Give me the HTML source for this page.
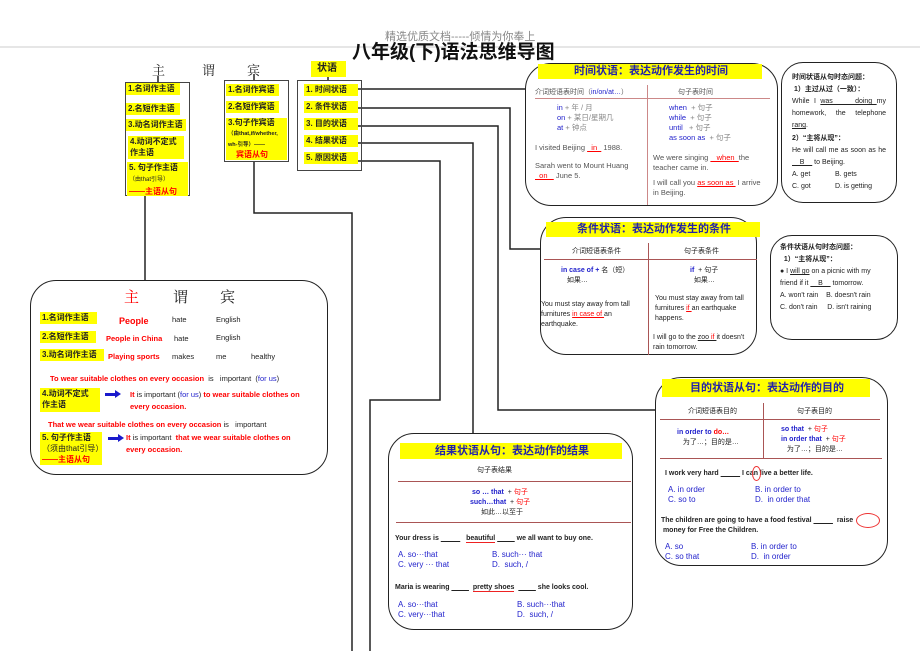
<!DOCTYPE html>
<html><head><meta charset="utf-8"><style>
*{margin:0;padding:0;box-sizing:border-box}
body{width:920px;height:651px;background:#fff;position:relative;overflow:hidden;font-family:"Liberation Sans","Noto Sans CJK SC",sans-serif;color:#222}
div,span.a{position:absolute}
.y{background:#ff0;font-weight:bold;font-size:8px;line-height:12px;padding-left:2px;white-space:nowrap}
.bx{border:1.5px solid #444}
.rb{border:1.5px solid #222;border-radius:26px;background:#fff}
.t{font-size:7.5px;line-height:10px;white-space:nowrap}
.b{color:#2222cc}.r{color:#f00}
.u{text-decoration:underline}
svg{position:absolute;left:0;top:0}
</style></head><body>
<svg width="920" height="651">
<line x1="0" y1="47" x2="920" y2="47" stroke="#ccc" stroke-width="1"/>
<g stroke="#222" stroke-width="1.5" fill="none">
<line x1="158" y1="76" x2="158" y2="82"/>
<line x1="254" y1="74" x2="254" y2="80"/>
<line x1="328" y1="77" x2="328" y2="80"/>
<polyline points="145,196 145,280"/>
<polyline points="254,162 254,213 352,213 352,651"/>
<polyline points="357,161 440,161 440,400 370,400 370,651"/>
<polyline points="357,143 473,143 473,433"/>
<polyline points="357,126 498,126 498,410 656,410"/>
<polyline points="357,108 510,108 510,249 541,249"/>
<polyline points="357,89 526,89"/>
</g>
</svg>
<div style="left:385px;top:28px;font-size:11px;color:#888">精选优质文档-----倾情为你奉上</div>
<div style="left:352px;top:37px;font-size:19px;font-weight:bold;color:#111">八年级(下)语法思维导图</div>
<div style="left:152px;top:60px;font-size:13px;font-family:'Noto Serif CJK SC',serif">主</div>
<div style="left:202px;top:60px;font-size:13px;font-family:'Noto Serif CJK SC',serif">谓</div>
<div style="left:247px;top:60px;font-size:13px;font-family:'Noto Serif CJK SC',serif">宾</div>
<div class="y" style="left:311px;top:61px;width:35px;height:16px;font-size:10px;line-height:16px;padding-left:6px">状语</div>

<div class="bx" style="left:125px;top:82px;width:65px;height:114px"></div>
<div class="y" style="left:126px;top:83px;width:54px">1.名词作主语</div>
<div class="y" style="left:126px;top:103px;width:54px">2.名短作主语</div>
<div class="y" style="left:126px;top:119px;width:60px">3.动名词作主语</div>
<div class="y" style="left:128px;top:136px;width:56px;height:23px;line-height:11px">4.动词不定式<br>作主语</div>
<div class="y" style="left:127px;top:162px;width:61px;height:34px;line-height:11px">5. 句子作主语<br><span style="font-size:6px;font-weight:normal">（由that引导）</span><br><span class="r">——主语从句</span></div>

<div class="bx" style="left:224px;top:80px;width:65px;height:82px"></div>
<div class="y" style="left:226px;top:84px;width:53px">1.名词作宾语</div>
<div class="y" style="left:226px;top:101px;width:53px">2.名短作宾语</div>
<div class="y" style="left:226px;top:118px;width:61px;height:42px;line-height:10px">3.句子作宾语<br><span style="font-size:5.5px">（由that,if/whether,<br>wh-引导）——</span><br><span class="r" style="padding-left:8px">宾语从句</span></div>

<div class="bx" style="left:297px;top:80px;width:65px;height:91px"></div>
<div class="y" style="left:304px;top:84px;width:54px">1. 时间状语</div>
<div class="y" style="left:304px;top:101px;width:54px">2. 条件状语</div>
<div class="y" style="left:304px;top:118px;width:54px">3. 目的状语</div>
<div class="y" style="left:304px;top:135px;width:54px">4. 结果状语</div>
<div class="y" style="left:304px;top:152px;width:54px">5. 原因状语</div>

<!-- main box -->
<div class="rb" style="left:30px;top:280px;width:298px;height:195px"></div>
<div style="left:124px;top:286px;font-size:15px;color:#f00;font-family:'Noto Serif CJK SC',serif">主</div>
<div style="left:173px;top:286px;font-size:15px;font-family:'Noto Serif CJK SC',serif">谓</div>
<div style="left:220px;top:286px;font-size:15px;font-family:'Noto Serif CJK SC',serif">宾</div>
<div class="y" style="left:40px;top:312px;width:57px">1.名词作主语</div>
<div class="y" style="left:40px;top:331px;width:56px">2.名短作主语</div>
<div class="y" style="left:40px;top:349px;width:64px">3.动名词作主语</div>
<div class="t r" style="left:119px;top:316px;font-size:9px;font-weight:bold">People</div>
<div class="t" style="left:172px;top:315px">hate</div><div class="t" style="left:216px;top:315px">English</div>
<div class="t r" style="left:106px;top:334px;font-weight:bold">People in China</div>
<div class="t" style="left:174px;top:334px">hate</div><div class="t" style="left:216px;top:333px">English</div>
<div class="t r" style="left:108px;top:352px;font-weight:bold">Playing sports</div>
<div class="t" style="left:172px;top:352px">makes</div><div class="t" style="left:216px;top:352px">me</div><div class="t" style="left:251px;top:352px">healthy</div>
<div class="t" style="left:50px;top:374px"><b class="r">To wear suitable clothes on every occasion</b>&nbsp; is &nbsp; important &nbsp;(<span class="b">for us</span>)</div>
<div class="y" style="left:40px;top:388px;width:60px;height:24px;line-height:11px">4.动词不定式<br>作主语</div>
<div style="left:105px;top:393px;width:12px;height:3px;background:#1a1acc"></div><div style="left:115px;top:390px;width:0;height:0;border-left:6px solid #1a1acc;border-top:4.5px solid transparent;border-bottom:4.5px solid transparent"></div>
<div class="t" style="left:130px;top:390px"><b class="r">It</b> is important (<span class="b">for us</span>) <b class="r">to wear suitable clothes on</b></div>
<div class="t r" style="left:130px;top:402px;font-weight:bold">every occasion.</div>
<div class="t" style="left:48px;top:420px"><b class="r">That we wear suitable clothes on every occasion</b> is &nbsp; important</div>
<div class="y" style="left:40px;top:432px;width:62px;height:33px;line-height:11px">5. 句子作主语<br><span style="font-weight:normal">（须由that引导）</span><br><span class="r">——主语从句</span></div>
<div style="left:108px;top:437px;width:12px;height:3px;background:#1a1acc"></div><div style="left:118px;top:434px;border-left:6px solid #1a1acc;border-top:4.5px solid transparent;border-bottom:4.5px solid transparent"></div>
<div class="t" style="left:126px;top:433px"><b class="r">It</b> is important &nbsp;<b class="r">that we wear suitable clothes on</b></div>
<div class="t r" style="left:126px;top:445px;font-weight:bold">every occasion.</div>

<!-- time box -->
<div class="rb" style="left:525px;top:63px;width:253px;height:143px"></div>
<div class="y" style="left:538px;top:64px;width:224px;height:15px;font-size:11px;line-height:15px;text-align:center;color:#2222aa">时间状语：表达动作发生的时间</div>
<div style="left:647px;top:85px;width:1px;height:120px;background:#c88"></div>
<div style="left:535px;top:98px;width:235px;height:1px;background:#c88"></div>
<div class="t" style="left:535px;top:88px;color:#555;font-size:7px">介词短语表时间（<span class="b">in/on/at…</span>）</div>
<div class="t" style="left:678px;top:88px;color:#555;font-size:7px">句子表时间</div>
<div class="t" style="left:557px;top:103px;color:#888"><span class="b">in</span> + 年 / 月<br><span class="b">on</span> + 某日/星期几<br><span class="b">at</span> + 钟点</div>
<div class="t" style="left:669px;top:103px;color:#888"><span class="b">when</span> &nbsp;+ 句子<br><span class="b">while</span> &nbsp;+ 句子<br><span class="b">until</span> &nbsp;&nbsp;+ 句子<br><span class="b">as soon as</span> &nbsp;+ 句子</div>
<div class="t" style="left:535px;top:143px;color:#555">I visited Beijing <span class="u r">&nbsp;&nbsp;in&nbsp;&nbsp;</span> 1988.</div>
<div class="t" style="left:535px;top:161px;color:#555">Sarah went to Mount Huang<br><span class="u r">&nbsp;&nbsp;on&nbsp;&nbsp;&nbsp;</span> June 5.</div>
<div class="t" style="left:653px;top:153px;color:#555">We were singing <span class="u r">&nbsp;&nbsp;&nbsp;when&nbsp;&nbsp;</span>the<br>teacher came in.</div>
<div class="t" style="left:653px;top:178px;color:#555">I will call you <span class="u r">as soon as&nbsp;</span> I arrive<br>in Beijing.</div>
<div class="rb" style="left:781px;top:62px;width:116px;height:141px;border-radius:22px;border-width:1px"></div>
<div class="t" style="left:792px;top:72px;font-size:7px;line-height:12px;font-weight:bold">时间状语从句时态问题：<br>&nbsp;1）主过从过（一致）：</div>
<div style="left:792px;top:96px;width:94px;font-size:7px;line-height:12.2px;text-align:justify">While I <span class="u">was &nbsp;&nbsp;&nbsp;&nbsp;doing </span>my homework, the telephone <span class="u">rang</span>.<br><b>2）“主将从现”：</b><br>He will call me as soon as he <span class="u">&nbsp;&nbsp;&nbsp;&nbsp;B&nbsp;&nbsp;&nbsp;&nbsp;</span> to Beijing.</div>
<div class="t" style="left:792px;top:169px;font-size:7px;line-height:12px">A. get<br>C. got</div>
<div class="t" style="left:835px;top:169px;font-size:7px;line-height:12px">B. gets<br>D. is getting</div>

<!-- condition box -->
<div class="rb" style="left:540px;top:217px;width:217px;height:138px"></div>
<div class="y" style="left:546px;top:222px;width:214px;height:15px;font-size:11px;line-height:15px;text-align:center;color:#2222aa">条件状语：表达动作发生的条件</div>
<div style="left:648px;top:243px;width:1px;height:112px;background:#a55"></div>
<div style="left:544px;top:259px;width:213px;height:1px;background:#a55"></div>
<div class="t" style="left:572px;top:247px;font-size:7px">介词短语表条件</div>
<div class="t" style="left:684px;top:247px;font-size:7px">句子表条件</div>
<div class="t" style="left:561px;top:266px;font-size:7px"><b class="b">in case of +</b> 名（短）<br>&nbsp;&nbsp;&nbsp;如果…</div>
<div class="t" style="left:690px;top:266px;font-size:7px"><b class="b">if</b> &nbsp;+ 句子<br>&nbsp;&nbsp;如果…</div>
<div class="t" style="left:541px;top:300px;font-size:7px">You must stay away from tall<br>furnitures <span class="u r">in case of </span>an<br>earthquake.</div>
<div class="t" style="left:655px;top:294px;font-size:7px">You must stay away from tall<br>furnitures <span class="u r">if </span>an earthquake<br>happens.</div>
<div class="t" style="left:653px;top:333px;font-size:7px">I will go to the <span class="u">zoo <span class="r">if </span></span>it doesn't<br>rain tomorrow.</div>
<div class="rb" style="left:770px;top:235px;width:128px;height:105px;border-radius:22px;border-width:1px"></div>
<div class="t" style="left:780px;top:242px;font-size:7px;line-height:12px"><b>条件状语从句时态问题：</b><br>&nbsp;&nbsp;<b>1）“主将从现”：</b><br>● I <span class="u">will go</span> on a picnic with my<br>friend if it <span class="u">&nbsp;&nbsp;&nbsp;&nbsp;B&nbsp;&nbsp;&nbsp;&nbsp;</span> tomorrow.<br>A. won't rain &nbsp;&nbsp;&nbsp;B. doesn't rain<br>C. don't rain &nbsp;&nbsp;&nbsp;&nbsp;D. isn't raining</div>

<!-- purpose box -->
<div class="rb" style="left:655px;top:377px;width:233px;height:189px"></div>
<div class="y" style="left:662px;top:379px;width:208px;height:18px;font-size:11px;line-height:18px;text-align:center;color:#2222aa">目的状语从句：表达动作的目的</div>
<div style="left:763px;top:403px;width:1px;height:55px;background:#a55"></div>
<div style="left:660px;top:419px;width:220px;height:1px;background:#a55"></div>
<div style="left:660px;top:458px;width:222px;height:1px;background:#a55"></div>
<div class="t" style="left:688px;top:407px;font-size:7px">介词短语表目的</div>
<div class="t" style="left:797px;top:407px;font-size:7px">句子表目的</div>
<div class="t" style="left:677px;top:428px;font-size:7px"><b class="b">in order to <span class="r">do…</span></b><br>&nbsp;&nbsp;&nbsp;为了…；目的是…</div>
<div class="t" style="left:781px;top:425px;font-size:7px"><b class="b">so that</b> &nbsp;+ <span class="r">句子</span><br><b class="b">in order that</b> &nbsp;+ <span class="r">句子</span><br>&nbsp;&nbsp;&nbsp;为了…；目的是…</div>
<div class="t" style="left:665px;top:469px;font-size:7px;font-weight:bold">I work very hard <span class="u">&nbsp;&nbsp;&nbsp;&nbsp;&nbsp;&nbsp;&nbsp;&nbsp;&nbsp;&nbsp;</span> I can live a better life.</div>
<div style="left:752px;top:466px;width:9px;height:15px;border:1px solid #e33;border-radius:50%"></div>
<div class="t b" style="left:668px;top:485px;font-size:8px">A. in order<br>C. so to</div>
<div class="t b" style="left:755px;top:485px;font-size:8px">B. in order to<br>D. &nbsp;in order that</div>
<div class="t" style="left:661px;top:516px;font-size:7px;font-weight:bold">The children are going to have a food festival <span class="u">&nbsp;&nbsp;&nbsp;&nbsp;&nbsp;&nbsp;&nbsp;&nbsp;&nbsp;&nbsp;</span> &nbsp;raise<br>&nbsp;money for Free the Children.</div>
<div style="left:856px;top:513px;width:24px;height:15px;border:1px solid #e33;border-radius:50%"></div>
<div class="t b" style="left:665px;top:542px;font-size:8px">A. so<br>C. so that</div>
<div class="t b" style="left:751px;top:542px;font-size:8px">B. in order to<br>D. &nbsp;in order</div>

<!-- result box -->
<div class="rb" style="left:388px;top:433px;width:245px;height:197px"></div>
<div class="y" style="left:400px;top:443px;width:222px;height:16px;font-size:11px;line-height:16px;text-align:center;color:#2222aa">结果状语从句：表达动作的结果</div>
<div class="t" style="left:477px;top:466px;font-size:7px">句子表结果</div>
<div style="left:398px;top:481px;width:233px;height:1px;background:#a55"></div>
<div style="left:396px;top:522px;width:235px;height:1px;background:#a55"></div>
<div class="t" style="left:472px;top:488px;font-size:7px"><b class="b">so … that</b> &nbsp;+ <span class="r">句子</span></div>
<div class="t" style="left:470px;top:498px;font-size:7px"><b class="b">such…that</b> &nbsp;+ <span class="r">句子</span></div>
<div class="t" style="left:481px;top:508px;font-size:7px">如此…以至于</div>
<div class="t" style="left:395px;top:534px;font-size:7px;font-weight:bold">Your dress is <span class="u">&nbsp;&nbsp;&nbsp;&nbsp;&nbsp;&nbsp;&nbsp;&nbsp;&nbsp;&nbsp;</span> &nbsp;&nbsp;<span style="border-bottom:1px solid #e22">beautiful</span> <span class="u">&nbsp;&nbsp;&nbsp;&nbsp;&nbsp;&nbsp;&nbsp;&nbsp;&nbsp;</span> we all want to buy one.</div>
<div class="t b" style="left:398px;top:550px;font-size:8px">A. so···that<br>C. very ··· that</div>
<div class="t b" style="left:492px;top:550px;font-size:8px">B. such··· that<br>D. &nbsp;such, /</div>
<div class="t" style="left:395px;top:583px;font-size:7px;font-weight:bold">Maria is wearing <span class="u">&nbsp;&nbsp;&nbsp;&nbsp;&nbsp;&nbsp;&nbsp;&nbsp;&nbsp;</span> &nbsp;<span style="border-bottom:1px solid #e22">pretty shoes</span> &nbsp;<span class="u">&nbsp;&nbsp;&nbsp;&nbsp;&nbsp;&nbsp;&nbsp;&nbsp;&nbsp;</span> she looks cool.</div>
<div class="t b" style="left:398px;top:600px;font-size:8px">A. so···that<br>C. very···that</div>
<div class="t b" style="left:517px;top:600px;font-size:8px">B. such···that<br>D. &nbsp;such, /</div>
</body></html>
